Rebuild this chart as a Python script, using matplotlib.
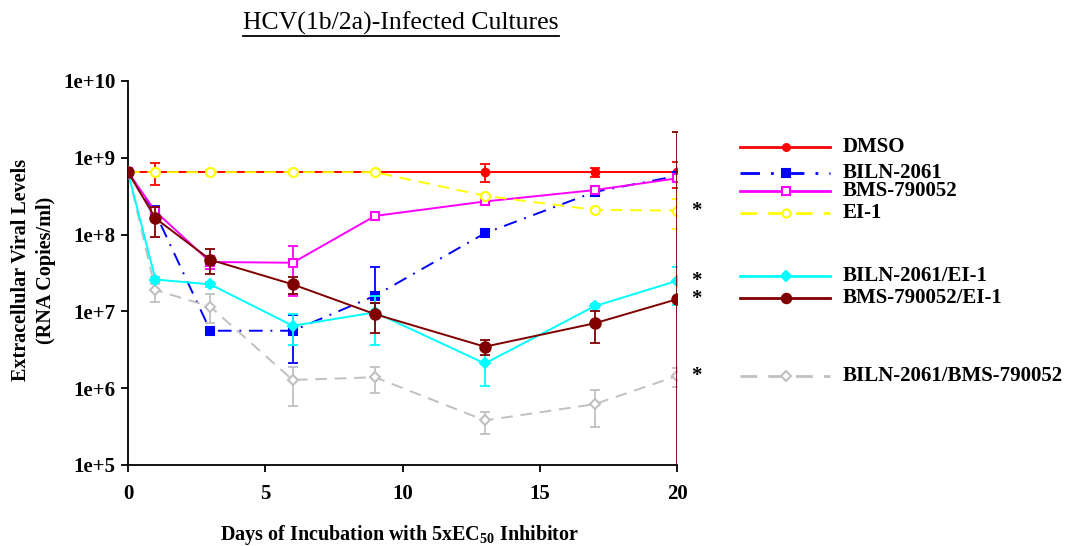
import matplotlib
matplotlib.use("Agg")
import matplotlib.pyplot as plt
import numpy as np
from matplotlib.lines import Line2D

plt.rcParams['font.family'] = ['Liberation Serif', 'DejaVu Serif']
plt.rcParams['mathtext.fontset'] = 'custom'
plt.rcParams['mathtext.rm'] = 'Liberation Serif'
plt.rcParams['mathtext.bf'] = 'Liberation Serif:bold'

days = [0, 1, 3, 6, 9, 13, 17, 20]

dmso = [6.5e8, 6.5e8, 6.5e8, 6.5e8, 6.5e8, 6.5e8, 6.5e8, 6.5e8]
dmso_lo = [6.5e8, 4.4e8, 6.5e8, 6.5e8, 6.5e8, 4.9e8, 5.6e8, 4.1e8]
dmso_hi = [6.5e8, 8.5e8, 6.5e8, 6.5e8, 6.5e8, 8.2e8, 7.4e8, 8.9e8]

biln = [6.5e8, 1.9e8, 5.6e6, 5.6e6, 1.6e7, 1.04e8, 3.6e8, 5.8e8]
biln_lo = [6.5e8, 1.6e8, 5.6e6, 2.1e6, 1.3e7, 9.5e7, 3.3e8, 5.6e8]
biln_hi = [6.5e8, 2.35e8, 5.6e6, 9.1e6, 3.8e7, 1.14e8, 3.9e8, 6.0e8]

bms = [6.5e8, 2.0e8, 4.4e7, 4.3e7, 1.75e8, 2.7e8, 3.8e8, 5.4e8]
bms_lo = [6.5e8, 1.7e8, 3.6e7, 1.6e7, 1.65e8, 2.5e8, 3.6e8, 5.1e8]
bms_hi = [6.5e8, 2.3e8, 5.2e7, 7.0e7, 1.85e8, 2.9e8, 4.0e8, 5.7e8]

ei1 = [6.5e8, 6.5e8, 6.5e8, 6.5e8, 6.5e8, 3.2e8, 2.1e8, 2.05e8]
ei1_lo = [6.5e8, 6.5e8, 6.1e8, 6.1e8, 6.5e8, 3.0e8, 1.95e8, 1.2e8]
ei1_hi = [6.5e8, 6.5e8, 6.9e8, 6.9e8, 6.5e8, 3.4e8, 2.25e8, 2.9e8]

biln_ei = [6.5e8, 2.6e7, 2.25e7, 6.5e6, 9.7e6, 2.1e6, 1.17e7, 2.5e7]
biln_ei_lo = [6.5e8, 2.4e7, 2.1e7, 3.6e6, 3.7e6, 1.07e6, 1.1e7, 1.2e7]
biln_ei_hi = [6.5e8, 2.8e7, 2.4e7, 9.2e6, 1.57e7, 3.1e6, 1.25e7, 3.8e7]

bms_ei = [6.5e8, 1.63e8, 4.7e7, 2.25e7, 9.2e6, 3.47e6, 7.0e6, 1.44e7]
bms_ei_lo = [6.5e8, 9.4e7, 3.1e7, 1.69e7, 5.3e6, 2.7e6, 3.9e6, 1.0e3]
bms_ei_hi = [6.5e8, 2.3e8, 6.4e7, 2.8e7, 1.3e7, 4.3e6, 1.0e7, 2.2e9]

biln_bms = [6.5e8, 1.9e7, 1.15e7, 1.28e6, 1.39e6, 3.8e5, 6.2e5, 1.44e6]
biln_bms_lo = [6.5e8, 1.34e7, 7.1e6, 5.9e5, 8.6e5, 2.5e5, 3.1e5, 1.03e6]
biln_bms_hi = [6.5e8, 2.3e7, 1.69e7, 1.9e6, 1.9e6, 4.9e5, 9.5e5, 1.82e6]

labels = ['DMSO', 'BILN-2061', 'BMS-790052', 'EI-1',
          'BILN-2061/EI-1', 'BMS-790052/EI-1', 'BILN-2061/BMS-790052']
ytick_vals = [1e5, 1e6, 1e7, 1e8, 1e9, 1e10]
ytick_labels = ['1e+5', '1e+6', '1e+7', '1e+8', '1e+9', '1e+10']
xtick_vals = [0, 5, 10, 15, 20]

W, H = 1066, 546
fig = plt.figure(figsize=(W / 100, H / 100), dpi=100)
ax = fig.add_axes([128 / W, 1 - 465 / H, (677 - 128) / W, (465 - 81) / H])

series = [
    dict(v=dmso, lo=dmso_lo, hi=dmso_hi, c='#FF0000', ls='-', m='o', ms=5.5, mfc='#FF0000', z=3),
    dict(v=biln, lo=biln_lo, hi=biln_hi, c='#0000FF', ls=(0, (7, 4, 1, 4)), m='s', ms=6, mfc='#0000FF', z=4),
    dict(v=bms, lo=bms_lo, hi=bms_hi, c='#FF00FF', ls='-', m='s', ms=6, mfc='white', z=5),
    dict(v=ei1, lo=ei1_lo, hi=ei1_hi, c='#FFFF00', ls=(0, (6, 4)), m='o', ms=6.5, mfc='white', z=6),
    dict(v=biln_bms, lo=biln_bms_lo, hi=biln_bms_hi, c='#C0C0C0', ls=(0, (6, 4)), m='D', ms=5.5, mfc='white', z=4),
    dict(v=biln_ei, lo=biln_ei_lo, hi=biln_ei_hi, c='#00FFFF', ls='-', m='D', ms=5.5, mfc='#00FFFF', z=5),
    dict(v=bms_ei, lo=bms_ei_lo, hi=bms_ei_hi, c='#800000', ls='-', m='o', ms=7.5, mfc='#800000', z=7),
]
order_labels = ['DMSO', 'BILN-2061', 'BMS-790052', 'EI-1',
                'BILN-2061/BMS-790052', 'BILN-2061/EI-1', 'BMS-790052/EI-1']
for s in series:
    v = np.array(s['v'])
    err = [v - np.array(s['lo']), np.array(s['hi']) - v]
    ax.errorbar(days, v, yerr=err, color=s['c'], ecolor=s['c'], elinewidth=1.3,
                capsize=3.8, capthick=1.3, ls='none', zorder=s['z'], clip_on=True)
    ax.plot(days, v, color=s['c'], ls=s['ls'], lw=1.4, marker=s['m'], ms=s['ms'],
            mfc=s['mfc'], mec=s['c'], mew=1.5, zorder=s['z'] + 0.5)

# asterisks next to day-20 values
for vals in [ei1, biln_ei, bms_ei, biln_bms]:
    ax.text(20.5, vals[-1], '*', fontsize=15, fontweight='bold', ha='left', va='center',
            clip_on=False)

ax.set_yscale('log')
ax.set_ylim(1e5, 1e10)
ax.set_xlim(0, 20)
ax.set_yticks(ytick_vals)
ax.set_yticklabels(ytick_labels)
ax.minorticks_off()
ax.set_xticks(xtick_vals)
ax.set_xticklabels([str(x) for x in xtick_vals])
for sp in ['top', 'right']:
    ax.spines[sp].set_visible(False)
for sp in ['left', 'bottom']:
    ax.spines[sp].set_linewidth(1.3)
ax.tick_params(direction='out', length=5, width=1.3, labelsize=15)
ax.tick_params(axis='x', pad=9)
ax.tick_params(axis='y', pad=4)
for lab in ax.get_xticklabels() + ax.get_yticklabels():
    lab.set_fontweight('bold')

fig.text(400 / W, 1 - 535 / H, r'Days of Incubation with 5xEC$_{\mathbf{50}}$ Inhibitor',
         ha='center', va='center', fontsize=14.5, fontweight='bold')
fig.text(21 / W, 1 - 270 / H, 'Extracellular Viral Levels', rotation=90,
         ha='center', va='center', fontsize=14.5, fontweight='bold')
fig.text(46 / W, 1 - 270 / H, '(RNA Copies/ml)', rotation=90,
         ha='center', va='center', fontsize=14.5, fontweight='bold')

title = fig.text(401 / W, 1 - 23 / H, 'HCV(1b/2a)-Infected Cultures',
                 ha='center', va='center', fontsize=18.5)

# legend drawn in pixel coordinates
lax = fig.add_axes([0, 0, 1, 1], facecolor='none')
lax.set_xlim(0, W)
lax.set_ylim(H, 0)
lax.axis('off')
leg_y = [147, 173, 191, 213, 276, 298, 376]
style_by_label = dict(zip(order_labels, series))
for lab, y in zip(labels, leg_y):
    s = style_by_label[lab]
    lax.add_line(Line2D([740, 830], [y, y], color=s['c'], ls=s['ls'], lw=2.0))
    lax.add_line(Line2D([786], [y], color=s['c'], ls='none', marker=s['m'],
                        ms=s['ms'] * 0.9, mfc=s['mfc'], mec=s['c'], mew=1.5))
    lax.text(843, y, lab, ha='left', va='center', fontsize=15, fontweight='bold')

# underline the title
fig.canvas.draw()
bb = title.get_window_extent(renderer=fig.canvas.get_renderer())
lax.add_line(Line2D([bb.x0, bb.x1], [H - bb.y0 + 1, H - bb.y0 + 1], color='black', lw=1.3))

fig.savefig('out.png', dpi=100)
